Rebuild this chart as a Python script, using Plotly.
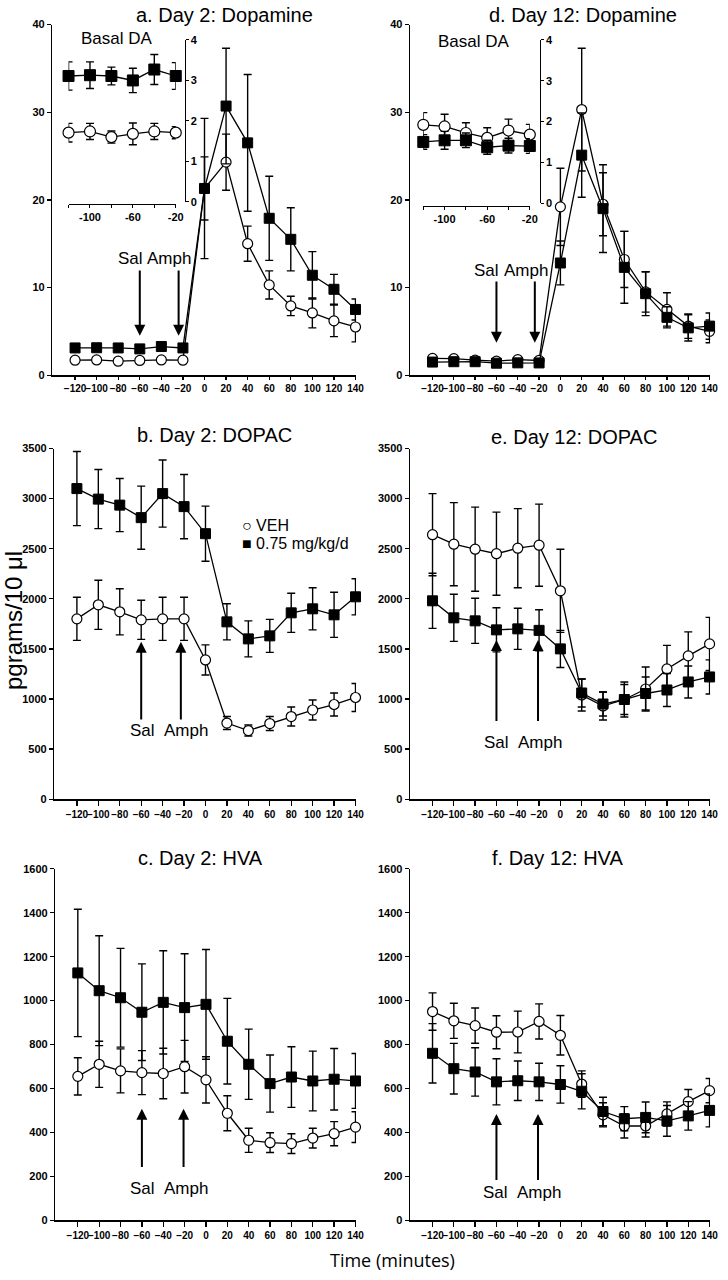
import plotly.graph_objects as go

W, H = 728, 1280


def px(x):
    return x / W


def py(y):
    return 1 - y / H


# ---------------- data ----------------
t_main = [-120, -100, -80, -60, -40, -20, 0, 20, 40, 60, 80, 100, 120, 140]
t_base = [-120, -100, -80, -60, -40, -20]

# a. Day 2: Dopamine
a_veh = [1.71, 1.74, 1.60, 1.68, 1.74, 1.71, 21.3, 24.3, 15.0, 10.3, 7.9, 7.1, 6.2, 5.5]
a_veh_err = [0.23, 0.2, 0.15, 0.27, 0.2, 0.15, 3.6, 3.2, 2.0, 1.6, 1.1, 1.7, 1.8, 1.7]
a_drug = [3.11, 3.13, 3.11, 3.0, 3.27, 3.11, 21.3, 30.7, 26.5, 17.9, 15.5, 11.4, 9.8, 7.5]
a_drug_err = [0.35, 0.33, 0.22, 0.3, 0.37, 0.33, 8.0, 6.6, 7.8, 4.8, 3.6, 2.7, 1.7, 1.2]

# d. Day 12: Dopamine
d_veh = [1.92, 1.88, 1.72, 1.60, 1.78, 1.68, 19.2, 30.3, 19.5, 13.2, 9.5, 7.5, 5.6, 5.0]
d_veh_err = [0.3, 0.3, 0.25, 0.25, 0.28, 0.25, 4.4, 7.0, 3.6, 3.2, 2.3, 1.9, 1.4, 1.3]
d_drug = [1.50, 1.54, 1.54, 1.37, 1.41, 1.40, 12.8, 25.1, 19.0, 12.3, 9.3, 6.6, 5.4, 5.6]
d_drug_err = [0.18, 0.22, 0.18, 0.17, 0.18, 0.18, 2.5, 4.8, 5.0, 4.1, 2.5, 1.2, 1.5, 1.5]

# b. Day 2: DOPAC
b_veh = [1800, 1940, 1870, 1790, 1800, 1800, 1390, 760, 685, 755, 825, 890, 945, 1015]
b_veh_err = [215, 245, 230, 195, 215, 215, 150, 65, 55, 70, 95, 100, 115, 140]
b_drug = [3100, 2995, 2935, 2810, 3050, 2920, 2650, 1770, 1600, 1630, 1860, 1900, 1840, 2020]
b_drug_err = [370, 295, 265, 315, 335, 320, 275, 180, 180, 165, 195, 210, 225, 180]

# e. Day 12: DOPAC
e_veh = [2640, 2545, 2495, 2450, 2505, 2535, 2080, 1040, 930, 995, 1100, 1300, 1430, 1550]
e_veh_err = [410, 415, 420, 415, 395, 410, 415, 160, 140, 150, 220, 235, 240, 265]
e_drug = [1980, 1810, 1780, 1690, 1700, 1685, 1500, 1060, 950, 995, 1055, 1090, 1170, 1220]
e_drug_err = [275, 235, 225, 220, 205, 205, 185, 140, 120, 175, 165, 165, 160, 170]

# c. Day 2: HVA
c_veh = [655, 710, 680, 672, 668, 699, 639, 487, 364, 353, 349, 374, 394, 424]
c_veh_err = [85, 105, 100, 100, 115, 120, 105, 80, 55, 45, 45, 45, 55, 70]
c_drug = [1126, 1045, 1013, 947, 992, 968, 983, 815, 710, 622, 652, 634, 642, 634]
c_drug_err = [290, 250, 225, 220, 235, 245, 250, 195, 160, 130, 138, 136, 140, 125]

# f. Day 12: HVA
f_veh = [950, 908, 886, 856, 857, 905, 842, 620, 480, 429, 429, 484, 540, 590]
f_veh_err = [85, 80, 80, 75, 95, 80, 90, 60, 55, 55, 50, 55, 55, 55]
f_drug = [760, 690, 675, 630, 635, 630, 618, 587, 495, 462, 468, 452, 475, 500]
f_drug_err = [135, 115, 110, 105, 90, 85, 85, 80, 65, 55, 70, 70, 65, 75]

titles = ["a. Day 2: Dopamine", "b. Day 2: DOPAC", "c. Day 2: HVA",
          "d. Day 12: Dopamine", "e. Day 12: DOPAC", "f. Day 12: HVA"]
da_ticks = [0, 10, 20, 30, 40]
dopac_ticks = [0, 500, 1000, 1500, 2000, 2500, 3000, 3500]
hva_ticks = [0, 200, 400, 600, 800, 1000, 1200, 1400, 1600]
inset_yticks = [0, 1, 2, 3, 4]
inset_xtext = ["", "-100", "", "-60", "", "-20"]
legend_labels = ["VEH", "0.75 mg/kg/d"]

FONT = "Liberation Sans, Arial, sans-serif"
TICKFONT = dict(family=FONT, size=11, color="black", weight="bold")
XTICKFONT = dict(family=FONT, size=10, color="black", weight="bold")

fig = go.Figure()


def add_series(n, x, veh, veh_err, drug, drug_err, msize=10):
    xa = "x" if n == 1 else f"x{n}"
    ya = "y" if n == 1 else f"y{n}"
    fig.add_trace(go.Scatter(
        x=x, y=veh, xaxis=xa, yaxis=ya, mode="lines+markers",
        line=dict(color="black", width=1.3),
        marker=dict(symbol="circle", size=msize, color="white",
                    line=dict(color="black", width=1.2)),
        error_y=dict(type="data", array=veh_err, color="black", thickness=1.4, width=4),
        cliponaxis=False, name=legend_labels[0], showlegend=False, hoverinfo="skip"))
    fig.add_trace(go.Scatter(
        x=x, y=drug, xaxis=xa, yaxis=ya, mode="lines+markers",
        line=dict(color="black", width=1.3),
        marker=dict(symbol="square", size=msize, color="black",
                    line=dict(color="black", width=1)),
        error_y=dict(type="data", array=drug_err, color="black", thickness=1.4, width=4),
        cliponaxis=False, name=legend_labels[1], showlegend=False, hoverinfo="skip"))


# panel layout (pixel geometry)
panels = [
    (1, (53, 360), (18.7, 372.7), [0, 40], da_ticks, (a_veh, a_veh_err, a_drug, a_drug_err), 3),
    (2, (55, 360), (446.7, 800.7), [0, 3500], dopac_ticks, (b_veh, b_veh_err, b_drug, b_drug_err), 5),
    (3, (56, 360), (871, 1225.7), [0, 1600], hva_ticks, (c_veh, c_veh_err, c_drug, c_drug_err), 5),
    (4, (414.7, 718), (18.7, 372.7), [0, 40], da_ticks, (d_veh, d_veh_err, d_drug, d_drug_err), 3),
    (5, (414.7, 718), (446.7, 800.7), [0, 3500], dopac_ticks, (e_veh, e_veh_err, e_drug, e_drug_err), 5),
    (6, (414.7, 718), (871, 1225.7), [0, 1600], hva_ticks, (f_veh, f_veh_err, f_drug, f_drug_err), 5),
]

layout_axes = {}
for n, xd, yd, yr, yt, data, tl in panels:
    add_series(n, t_main, *data)
    sx = "" if n == 1 else str(n)
    layout_axes[f"xaxis{sx}"] = dict(
        domain=[px(xd[0]), px(xd[1])], range=[-141, 140.5], anchor=f"y{sx}",
        tickvals=t_main, ticks="outside", ticklen=tl, tickwidth=1.3, tickangle=0,
        tickcolor="black", showline=True, linecolor="black", linewidth=1.5,
        showgrid=False, zeroline=False, tickfont=XTICKFONT, fixedrange=True)
    layout_axes[f"yaxis{sx}"] = dict(
        domain=[py(yd[1]), py(yd[0])], range=yr, anchor=f"x{sx}",
        tickvals=yt, ticks="outside", ticklen=4, tickwidth=1.3,
        tickcolor="black", showline=True, linecolor="black", linewidth=1.5,
        showgrid=False, zeroline=False, tickfont=TICKFONT, fixedrange=True)

# insets (basal DA)
insets = [
    (7, (69.3, 177.7), (34.3, 197.7), 200, 186.7, (a_veh[:6], a_veh_err[:6], a_drug[:6], a_drug_err[:6])),
    (8, (428, 535.7), (34.3, 199), 201.7, 545.7, (d_veh[:6], d_veh_err[:6], d_drug[:6], d_drug_err[:6])),
]
for n, xd, yd, xpos, ypos, data in insets:
    add_series(n, t_base, *data, msize=11)
    layout_axes[f"xaxis{n}"] = dict(
        domain=[px(xd[0]), px(xd[1])], range=[-120, -20], anchor="free", position=py(xpos),
        tickvals=t_base, ticktext=inset_xtext, ticks="outside", ticklen=3, tickwidth=1,
        tickangle=0, tickcolor="black", showline=True, linecolor="black", linewidth=1,
        showgrid=False, zeroline=False, tickfont=TICKFONT, fixedrange=True)
    layout_axes[f"yaxis{n}"] = dict(
        domain=[py(yd[1]), py(yd[0])], range=[0, 4], anchor="free", position=px(ypos),
        side="right", tickvals=inset_yticks, ticks="outside", ticklen=3, tickwidth=1,
        tickcolor="black", showline=True, linecolor="black", linewidth=1,
        showgrid=False, zeroline=False, tickfont=TICKFONT, fixedrange=True)

ann = []
# panel titles
title_pos = [(227, 9), (216.7, 433.3), (202.7, 860), (589, 9), (580, 435), (564, 860)]
for t, (x, y) in zip(titles, title_pos):
    ann.append(dict(text=t, x=px(x), y=py(y), xref="paper", yref="paper",
                    xanchor="center", yanchor="middle", showarrow=False,
                    font=dict(family=FONT, size=20, color="black")))

# Basal DA labels
for x, y in [(118, 33), (479, 36)]:
    ann.append(dict(text="Basal DA", x=px(x), y=py(y), xref="paper", yref="paper",
                    xanchor="center", yanchor="middle", showarrow=False,
                    font=dict(family=FONT, size=17, color="black")))

# arrows and Sal/Amph labels: (panel, sal_x, amph_x, tip, tail, sal_lx, amph_lx, label_y)
arrows = [
    (1, -60, -24, 4.5, 12.1, -68.6, -32.8, 13.3),
    (4, -60, -24, 3.7, 10.85, -69, -32.5, 12.0),
    (2, -60, -23, 1571, 781, -59, -18, 682),
    (5, -60, -21, 1589, 765, -60, -19, 567),
    (3, -60, -21, 507, 236, -59.5, -18.5, 146),
    (6, -60, -21, 484, 176, -60.7, -19.8, 124),
]
for n, sx, axx, tip, tail, slx, alx, ly in arrows:
    xr = "x" if n == 1 else f"x{n}"
    yr = "y" if n == 1 else f"y{n}"
    for xx in (sx, axx):
        ann.append(dict(x=xx, y=tip, ax=xx, ay=tail, xref=xr, yref=yr, axref=xr, ayref=yr,
                        text="", showarrow=True, arrowhead=2, arrowsize=1.1, arrowwidth=2,
                        arrowcolor="black", standoff=0))
    for txt, xx in (("Sal", slx), ("Amph", alx)):
        ann.append(dict(text=txt, x=xx, y=ly, xref=xr, yref=yr, xanchor="center",
                        yanchor="middle", showarrow=False,
                        font=dict(family=FONT, size=17, color="black")))

# legend (panel b)
ann.append(dict(text="○ " + legend_labels[0], x=px(243), y=py(524), xref="paper", yref="paper",
                xanchor="left", yanchor="middle", showarrow=False,
                font=dict(family=FONT, size=16, color="black")))
ann.append(dict(text="■ " + legend_labels[1], x=px(243), y=py(543), xref="paper", yref="paper",
                xanchor="left", yanchor="middle", showarrow=False,
                font=dict(family=FONT, size=16, color="black")))

# axis titles
ann.append(dict(text="pgrams/10 μl", x=px(13), y=py(620), xref="paper", yref="paper",
                xanchor="center", yanchor="middle", textangle=-90, showarrow=False,
                font=dict(family=FONT, size=24, color="black")))
ann.append(dict(text="Time (minutes)", x=px(397), y=py(1266), xref="paper", yref="paper",
                xanchor="center", yanchor="middle", showarrow=False,
                font=dict(family="Open Sans, sans-serif", size=18, color="black")))

fig.update_layout(
    width=W, height=H, margin=dict(l=0, r=0, t=0, b=0),
    paper_bgcolor="white", plot_bgcolor="white", showlegend=False,
    annotations=ann, font=dict(family=FONT, color="black"), hovermode=False,
    **layout_axes)

fig.write_html("out.html", config={"displayModeBar": False, "staticPlot": True},
               post_script="document.body.style.margin='0';document.body.style.overflow='hidden';")
